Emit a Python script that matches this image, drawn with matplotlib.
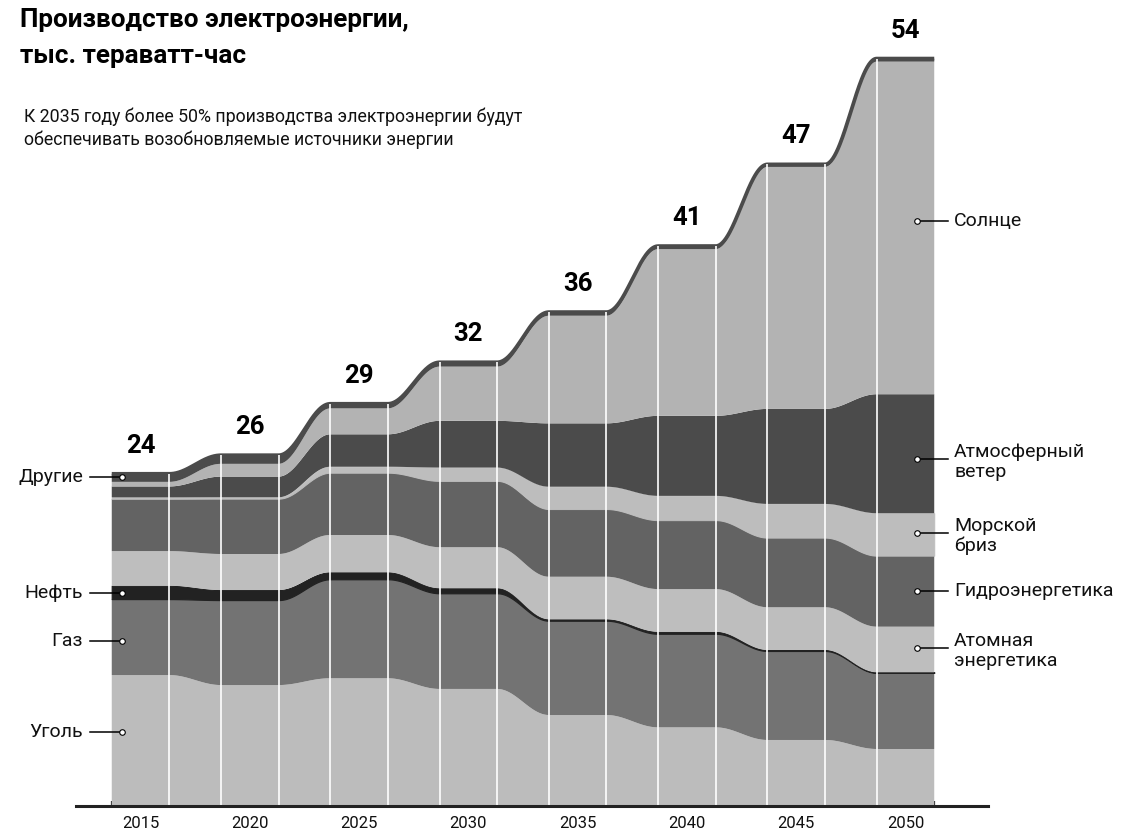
import numpy as np
import matplotlib
matplotlib.use('Agg')
import matplotlib.pyplot as plt

plt.rcParams['font.family'] = ['Roboto', 'DejaVu Sans']

# ---------------- data ----------------
years = [2015, 2020, 2025, 2030, 2035, 2040, 2045, 2050]
total_labels = ['24', '26', '29', '32', '36', '41', '47', '54']

# layers from bottom to top (тыс. ТВт·ч)
coal    = [9.44, 8.72, 9.21, 8.44, 6.56, 5.67, 4.76, 4.11]   # Уголь
gas     = [5.48, 6.13, 7.14, 6.90, 6.80, 6.75, 6.42, 5.49]   # Газ
oil     = [0.96, 0.72, 0.50, 0.36, 0.10, 0.14, 0.07, 0.04]   # Нефть
nuclear = [2.50, 2.60, 2.69, 2.96, 3.07, 3.08, 3.08, 3.29]   # Атомная энергетика
hydro   = [3.77, 3.99, 4.49, 4.78, 4.88, 4.97, 5.02, 5.12]   # Гидроэнергетика
breeze  = [0.10, 0.10, 0.43, 0.96, 1.61, 1.75, 2.43, 3.06]   # Морской бриз
wind    = [0.79, 1.49, 2.34, 3.37, 4.57, 5.77, 6.85, 8.58]   # Атмосферный ветер
solar   = [0.33, 0.92, 1.87, 3.91, 7.76, 12.02, 17.45, 23.98] # Солнце
other   = [0.58, 0.62, 0.33, 0.31, 0.26, 0.22, 0.18, 0.22]   # Другие

layers = [coal, gas, oil, nuclear, hydro, breeze, wind, solar, other]
colors = ['#bcbcbc', '#737373', '#222222', '#bebebe', '#636363',
          '#bdbdbd', '#4b4b4b', '#b3b3b3', '#4b4b4b']
edge_lw = [0, 0, 0.9, 0, 0, 0.7, 0, 0, 0]

left_labels = ['Другие', 'Нефть', 'Газ', 'Уголь']
left_label_y = [23.72, 15.36, 11.9, 5.34]
right_labels = ['Солнце', 'Атмосферный\nветер', 'Морской\nбриз',
                'Гидроэнергетика', 'Атомная\nэнергетика']
right_label_y = [42.18, 25.0, 19.7, 15.5, 11.37]

# ---------------- figure ----------------
W, H = 1133, 836
fig = plt.figure(figsize=(W / 100, H / 100), dpi=100)
ax = fig.add_axes([76 / W, 30 / H, 912 / W, 766 / H])
ax.set_xlim(2012.049, 2053.775)
ax.set_ylim(0, 55.23)

half = 1.315  # half width of the flat part of each year


def smooth_curve(vals):
    xs, ys = [], []
    for i, (yr, v) in enumerate(zip(years, vals)):
        xs += [yr - half, yr + half]
        ys += [v, v]
        if i < len(years) - 1:
            x0, x1 = yr + half, years[i + 1] - half
            t = np.linspace(0, 1, 60)[1:-1]
            e = (1 - np.cos(np.pi * t)) / 2
            xs += list(x0 + (x1 - x0) * t)
            ys += list(v + (vals[i + 1] - v) * e)
    return np.array(xs), np.array(ys)


cum = np.zeros(len(years))
for vals, col, lw in zip(layers, colors, edge_lw):
    lower = cum.copy()
    cum = cum + np.array(vals)
    x, ylo = smooth_curve(lower)
    _, yhi = smooth_curve(cum)
    ax.fill_between(x, ylo, yhi, facecolor=col,
                    edgecolor=col if lw else 'none', linewidth=lw, zorder=2)

totals = cum
# top outline stroke (same colour as "Другие")
xt, yt = smooth_curve(totals)
ax.plot(xt, yt, color='#4b4b4b', lw=2.7, solid_capstyle='butt', zorder=2.5)

# white separators
bounds = []
for yr in years:
    bounds += [yr - half, yr + half]
sep_x = bounds[1:-1]
sep_top = [totals[k // 2] for k in range(1, len(bounds) - 1)]
ax.vlines(sep_x, 0, sep_top, colors='white', linewidth=1.2, zorder=3)

# total labels
for yr, tot, lab in zip(years, totals, total_labels):
    ax.annotate(lab, xy=(yr, tot), xytext=(0, 28 * 0.72),
                textcoords='offset points', ha='center', va='center',
                fontsize=18.5, fontweight='bold', color='black')

# axis
for s in ['left', 'right', 'top']:
    ax.spines[s].set_visible(False)
ax.spines['bottom'].set_color('#222222')
ax.spines['bottom'].set_linewidth(2.2)
ax.spines['bottom'].set_zorder(5)
ax.set_yticks([])
ax.set_xticks(bounds)
ax.set_xticklabels([])
ax.tick_params(axis='x', which='major', direction='in', length=3.8,
               width=1.6, color='#222222')
ax.set_xticks(years, minor=True)
ax.set_xticklabels([str(y) for y in years], minor=True)
ax.tick_params(axis='x', which='minor', length=0, pad=7, labelsize=12,
               labelcolor='#111111')

# left labels
for lab, yv in zip(left_labels, left_label_y):
    ax.plot([2012.69, 2014.14], [yv, yv], color='black', lw=1.1,
            clip_on=False, zorder=6)
    ax.plot([2014.14], [yv], 'o', ms=4, mfc='white', mec='black', mew=0.8,
            clip_on=False, zorder=7)
    ax.text(2012.37, yv, lab, ha='right', va='center', fontsize=14,
            color='#111111')

# right labels
for lab, yv in zip(right_labels, right_label_y):
    ax.plot([2050.54, 2051.95], [yv, yv], color='black', lw=1.1,
            clip_on=False, zorder=6)
    ax.plot([2050.54], [yv], 'o', ms=4, mfc='white', mec='black', mew=0.8,
            clip_on=False, zorder=7)
    off = -0.2 if '\n' in lab else 0
    ax.text(2052.22, yv + off, lab, ha='left', va='center', fontsize=14,
            color='#111111', linespacing=1.1, clip_on=False)

# titles
fig.text(20 / W, 1 - 27 / H, 'Производство электроэнергии,', fontsize=18.8,
         fontweight='bold', ha='left', va='baseline', color='black')
fig.text(20 / W, 1 - 63 / H, 'тыс. тераватт-час', fontsize=18.8,
         fontweight='bold', ha='left', va='baseline', color='black')
fig.text(24 / W, 1 - 122 / H,
         'К 2035 году более 50% производства электроэнергии будут',
         fontsize=12.8, ha='left', va='baseline', color='#111111')
fig.text(24 / W, 1 - 145 / H,
         'обеспечивать возобновляемые источники энергии',
         fontsize=12.8, ha='left', va='baseline', color='#111111')

fig.savefig('out.png', dpi=100)
